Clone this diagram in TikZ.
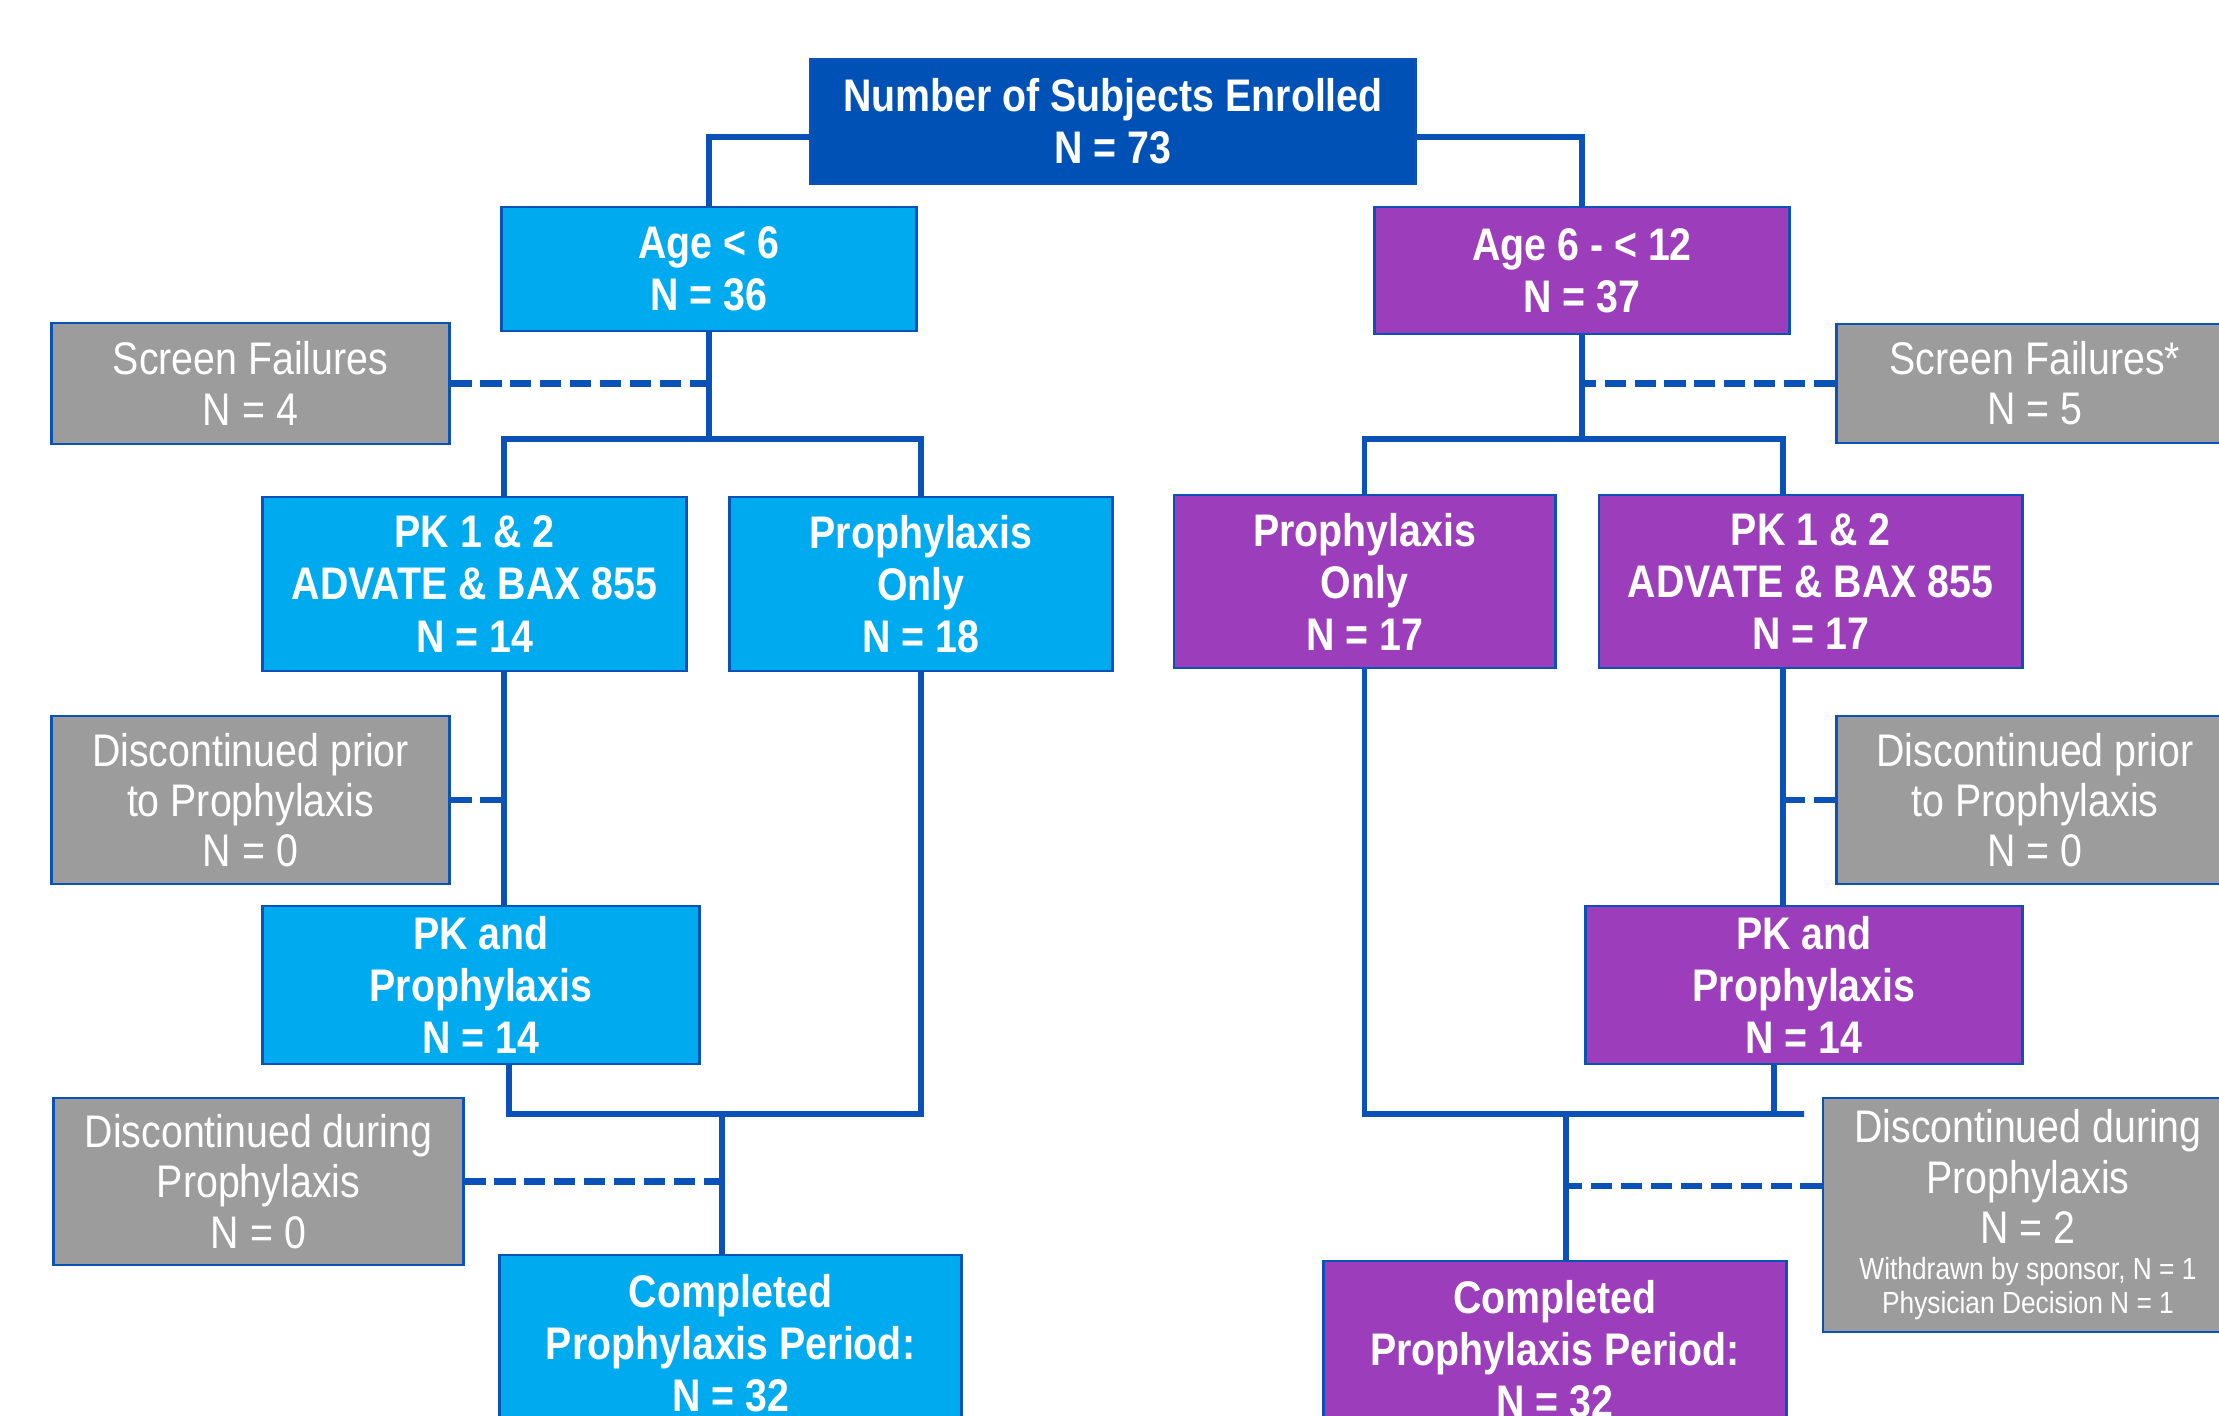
\documentclass[tikz,border=0pt]{standalone}
\usepackage{fontspec}
\setmainfont{Liberation Sans}[FakeStretch=0.86]
\usepackage{tikz}

\definecolor{enrolblue}{HTML}{0051B5}
\definecolor{youngcyan}{HTML}{00AAEE}
\definecolor{olderpurple}{HTML}{9C3DBB}
\definecolor{failgray}{HTML}{9C9C9C}
\definecolor{linkblue}{HTML}{0A52B8}

\newcommand{\smallnote}{\fontsize{8.7}{9.7}\selectfont}

\begin{document}
\begin{tikzpicture}[x=0.01cm,y=-0.01cm,
  box/.style={draw=linkblue,line width=0.8pt,text=white,align=center,inner sep=0pt,
    font=\fontsize{13}{14.8}\selectfont},
  arm/.style={box,font=\fontsize{13}{14.8}\selectfont\bfseries},
  outbox/.style={box,fill=failgray,font=\fontsize{13}{14.3}\selectfont},
  link/.style={linkblue,line width=1.5pt},
  dashline/.style={linkblue,line width=1.8pt,dash pattern=on 6pt off 2.5pt}]
  \useasboundingbox (0,0) rectangle (2219,1415);
  \clip (0,0) rectangle (2219,1415);

  % enrolment
  \node[arm,fill=enrolblue,minimum width=6.04cm,minimum height=1.25cm] (enrolled) at (1113,121.5)
    {Number of Subjects Enrolled\\N = 73};

  % age groups
  \node[arm,fill=youngcyan,minimum width=4.14cm,minimum height=1.24cm] (ageA) at (709,269)
    {Age < 6\\N = 36};
  \node[arm,fill=olderpurple,minimum width=4.14cm,minimum height=1.27cm] (ageB) at (1582,270.5)
    {Age 6 - < 12\\N = 37};

  % screen failures
  \node[outbox,minimum width=3.97cm,minimum height=1.21cm] (sfA) at (250.5,383.5)
    {Screen Failures\\N = 4};
  \node[outbox,minimum width=3.97cm,minimum height=1.19cm] (sfB) at (2035,383.5)
    {Screen Failures*\\N = 5};

  % arms
  \node[arm,fill=youngcyan,minimum width=4.23cm,minimum height=1.74cm] (pkA) at (474.5,584)
    {PK 1 \& 2\\ADVATE \& BAX 855\\N = 14};
  \node[arm,fill=youngcyan,minimum width=3.82cm,minimum height=1.74cm] (proA) at (921,584)
    {Prophylaxis\\Only\\N = 18};
  \node[arm,fill=olderpurple,minimum width=3.81cm,minimum height=1.73cm] (proB) at (1364.5,581.5)
    {Prophylaxis\\Only\\N = 17};
  \node[arm,fill=olderpurple,minimum width=4.23cm,minimum height=1.73cm] (pkB) at (1810.5,581.5)
    {PK 1 \& 2\\ADVATE \& BAX 855\\N = 17};

  % discontinued prior to prophylaxis
  \node[outbox,minimum width=3.97cm,minimum height=1.68cm] (dpA) at (250.5,800)
    {Discontinued prior\\to Prophylaxis\\N = 0};
  \node[outbox,minimum width=3.97cm,minimum height=1.68cm] (dpB) at (2035,800)
    {Discontinued prior\\to Prophylaxis\\N = 0};

  % PK and prophylaxis
  \node[arm,fill=youngcyan,minimum width=4.36cm,minimum height=1.58cm] (ppA) at (481,985)
    {PK and\\Prophylaxis\\N = 14};
  \node[arm,fill=olderpurple,minimum width=4.36cm,minimum height=1.58cm] (ppB) at (1804,985)
    {PK and\\Prophylaxis\\N = 14};

  % discontinued during prophylaxis
  \node[outbox,minimum width=4.09cm,minimum height=1.67cm] (ddA) at (258.5,1181.5)
    {Discontinued during\\Prophylaxis\\N = 0};
  \node[outbox,minimum width=4.10cm,minimum height=2.34cm] (ddB) at (2028,1215)
    {Discontinued during\\Prophylaxis\\N = 2\\[-4pt]
     {\smallnote Withdrawn by sponsor, N = 1}\\[-4.6pt]
     {\smallnote Physician Decision N = 1}};

  % completed
  \node[arm,fill=youngcyan,minimum width=4.61cm,minimum height=1.76cm] (cpA) at (730.5,1343)
    {Completed\\Prophylaxis Period:\\N = 32};
  \node[arm,fill=olderpurple,minimum width=4.62cm,minimum height=1.76cm] (cpB) at (1555,1349)
    {Completed\\Prophylaxis Period:\\N = 32};

  % junctions
  \coordinate (splitA) at (709,439);
  \coordinate (splitB) at (1582,439);
  \coordinate (colA) at (504,0);
  \coordinate (colB) at (1783,0);
  \coordinate (mergeA) at (722,1114);
  \coordinate (mergeB) at (1566,1114);

  % enrolled to age groups
  \draw[link] ([yshift=-0.155cm]enrolled.west) -| (ageA.north);
  \draw[link] ([yshift=-0.155cm]enrolled.east) -| (ageB.north);

  % age < 6 branch
  \draw[link] (ageA.south) -- (splitA);
  \draw[dashline] (sfA.east) -- (sfA.east -| splitA);
  \draw[link] (pkA.north -| colA) |- (splitA) -| (proA.north);
  \draw[link] (pkA.south -| colA) -- (ppA.north -| colA);
  \draw[dashline] (dpA.east) -- (dpA.east -| colA);
  \draw[link] (ppA.south -| 509,0) |- (proA.south |- mergeA) -- (proA.south);
  \draw[link] (mergeA) -- (cpA.north -| mergeA);
  \draw[dashline] (ddA.east) -- (ddA.east -| mergeA);

  % age 6 - < 12 branch
  \draw[link] (ageB.south) -- (splitB);
  \draw[dashline] (sfB.west) -- (sfB.west -| splitB);
  \draw[link] (proB.north) |- (splitB) -| (pkB.north -| colB);
  \draw[link] (pkB.south -| colB) -- (ppB.north -| colB);
  \draw[dashline] (dpB.west) -- (dpB.west -| colB);
  \draw[link] (proB.south) |- (ppB.south |- mergeB) -| (ppB.south -| 1774,0);
  \draw[link] (mergeB) -- (cpB.north -| mergeB);
  \draw[dashline] (ddB.west |- 0,1186) -- (mergeB |- 0,1186);
\end{tikzpicture}
\end{document}
